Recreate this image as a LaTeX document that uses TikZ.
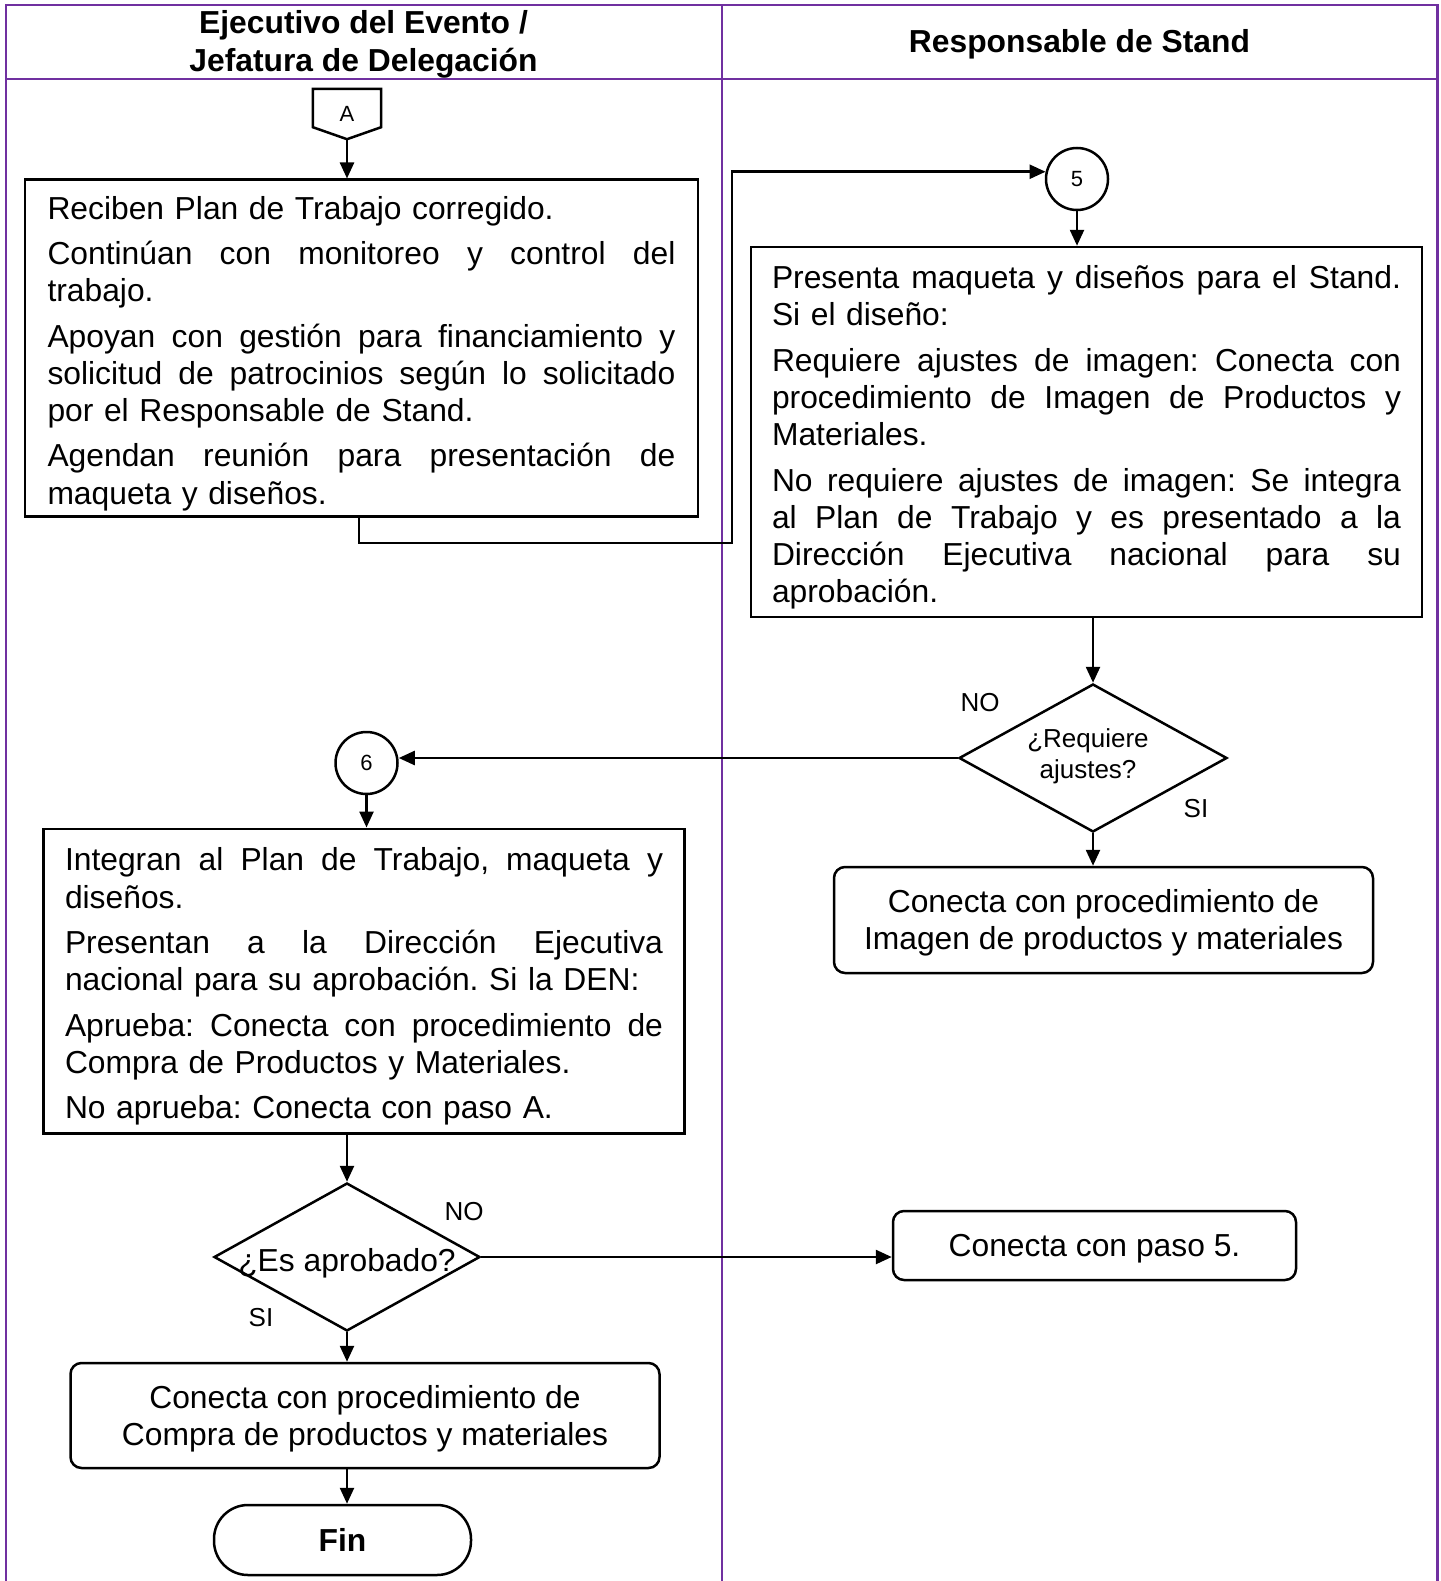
\documentclass[tikz,border=0pt]{standalone}
\usepackage{fontspec}
\setmainfont{Liberation Sans}
\usetikzlibrary{arrows.meta,shapes.geometric,calc}
\definecolor{lanepurple}{HTML}{7030A0}

% a line stretched to a given width by spreading its interword spaces
\newcommand\jl[2][628pt]{\leavevmode\hbox to #1{\spaceskip=0.278em plus 1fil\relax#2}}
% opening struts that give the first line of a box its top clearance
\newcommand\topstrut{\rule{0pt}{34pt}}
\newcommand\roundstrut{\rule{0pt}{29pt}}

\begin{document}
\frenchspacing
\begin{tikzpicture}[x=1pt,y=-1pt,
  lane/.style={draw=lanepurple,line width=2.6pt},
  plain/.style={line width=2.5pt},
  flow/.style={line width=2.5pt,-{Triangle[length=16pt,width=14pt]}},
  body/.style={font=\fontsize{31.8}{37.3}\selectfont},
  mid/.style={font=\fontsize{26}{31}\selectfont},
  tiny/.style={font=\fontsize{22}{26}\selectfont},
  head/.style={font=\fontsize{31.8}{38}\selectfont\bfseries,align=center,inner sep=0pt},
  procbox/.style={draw,line width=2.5pt,rectangle,inner sep=0pt,align=left,body},
  roundbox/.style={draw,line width=2.5pt,rectangle,rounded corners=11pt,inner sep=0pt,align=center,body},
  decision/.style={draw,line width=2.5pt,diamond,inner sep=0pt},
  joint/.style={draw,line width=2.5pt,circle,inner sep=0pt,minimum size=62pt,tiny},
  tag/.style={inner sep=0pt,mid},
]
\useasboundingbox (0,0) rectangle (1440,1581);

% swimlane frame
\draw[lane] (6,1585) -- (6,5) -- (1437.5,5) -- (1437.5,1585);
\draw[lane] (6,79) -- (1437.5,79);
\draw[lane] (722,5) -- (722,1585);

\node[head] (h1) at (363.5,44) {Ejecutivo del Evento /\\Jefatura de Delegación};
\node[head] (h2) at (1079.5,44.5) {Responsable de Stand};

% off-page connector A
\node[tiny,inner sep=0pt,minimum width=68pt,minimum height=50pt] (A) at (347,114) {A};
\draw[plain,line join=miter] (A.north west) -- (A.north east) -- ($(A.south east)+(0,-12)$)
  -- (A.south) -- ($(A.south west)+(0,-12)$) -- cycle;

% process boxes
\node[procbox,text width=628pt,minimum width=673pt,minimum height=336.5pt] (box1) at (361.5,348) {%
\topstrut Reciben Plan de Trabajo corregido.\\[8pt]
\jl{Continúan con monitoreo y control del}\\
trabajo.\\[8pt]
\jl{Apoyan con gestión para financiamiento y}\\
\jl{solicitud de patrocinios según lo solicitado}\\
por el Responsable de Stand.\\[8pt]
\jl{Agendan reunión para presentación de}\\
maqueta y diseños.};

\node[joint] (c5) at (1077,179) {5};

\node[procbox,text width=629pt,minimum width=671pt,minimum height=370pt] (box2) at (1086.5,432) {%
\topstrut\jl[629pt]{Presenta maqueta y diseños para el Stand.}\\
Si el diseño:\\[8pt]
\jl[629pt]{Requiere ajustes de imagen: Conecta con}\\
\jl[629pt]{procedimiento de Imagen de Productos y}\\
Materiales.\\[8pt]
\jl[629pt]{No requiere ajustes de imagen: Se integra}\\
\jl[629pt]{al Plan de Trabajo y es presentado a la}\\
\jl[629pt]{Dirección Ejecutiva nacional para su}\\
aprobación.};

\node[decision,minimum width=268pt,minimum height=148pt] (d1) at (1093,758) {};
\node[mid,align=center,inner sep=0pt] (d1t) at (1088,756) {¿Requiere\\ajustes?};
\node[tag] (no1) at (980,703) {NO};
\node[tag] (si1) at (1196,809) {SI};

\node[roundbox,minimum width=539pt,minimum height=106pt] (box4) at (1103.5,920)
  {\roundstrut Conecta con procedimiento de\\Imagen de productos y materiales};

\node[joint] (c6) at (366.5,763) {6};

\node[procbox,text width=598pt,minimum width=641pt,minimum height=304.5pt] (box3) at (364,981) {%
\topstrut\jl[598pt]{Integran al Plan de Trabajo, maqueta y}\\
diseños.\\[8pt]
\jl[598pt]{Presentan a la Dirección Ejecutiva}\\
nacional para su aprobación. Si la DEN:\\[8pt]
\jl[598pt]{Aprueba: Conecta con procedimiento de}\\
Compra de Productos y Materiales.\\[8pt]
No aprueba: Conecta con paso A.};

\node[decision,minimum width=266pt,minimum height=148pt] (d2) at (347,1257) {};
\node[body,inner sep=0pt] (d2t) at (347,1263) {¿Es aprobado?};
\node[tag] (no2) at (464,1212) {NO};
\node[tag] (si2) at (261,1318) {SI};

\node[roundbox,minimum width=403pt,minimum height=69pt] (box5) at (1094.5,1245.5) {\roundstrut Conecta con paso 5.};

\node[roundbox,minimum width=589pt,minimum height=105pt] (box6) at (365,1415.5)
  {\roundstrut Conecta con procedimiento de\\Compra de productos y materiales};

\node[draw,line width=2.5pt,rectangle,rounded corners=34pt,minimum width=257pt,minimum height=70pt,
  inner sep=0pt,body,font=\fontsize{31.8}{37}\selectfont\bfseries] (fin) at (342.5,1540) {Fin};

% connectors
\coordinate (k1) at (359,543);
\coordinate (k2) at (732,543);
\draw[flow] (A.south) -- (A.south |- box1.north);
\draw[flow] (box1.south -| k1) -- (k1) -- (k2) -- (k2 |- c5.167) -- (c5.167);
\draw[flow] (c5.south) -- (c5.south |- box2.north);
\draw[flow] (d1.north |- box2.south) -- (d1.north);
\draw[flow] (d1.west) -- (d1.west -| c6.east);
\draw[flow] (d1.south) -- (box4.north -| d1.south);
\draw[flow] (c6.south) -- (c6.south |- box3.north);
\draw[flow] (d2.north |- box3.south) -- (d2.north);
\draw[flow] (d2.east) -- (d2.east -| box5.west);
\draw[flow] (d2.south) -- (d2.south |- box6.north);
\draw[flow] (d2.south |- box6.south) -- (d2.south |- fin.north);
\end{tikzpicture}
\end{document}
